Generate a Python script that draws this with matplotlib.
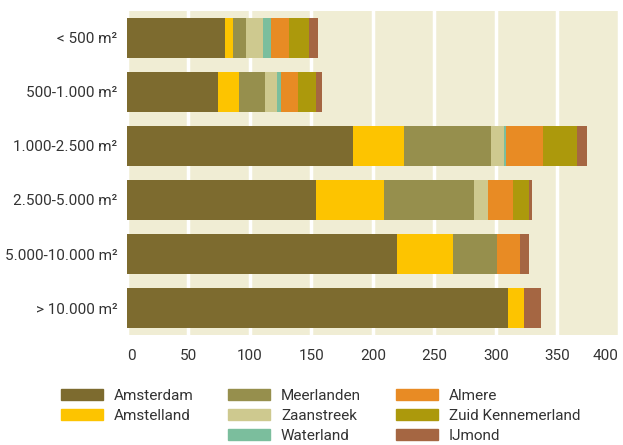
import numpy as np
import matplotlib
matplotlib.use("Agg")
from matplotlib import pyplot as plt
from matplotlib.patches import Patch

plt.rcParams['font.family'] = ['Roboto', 'DejaVu Sans']

categories = ["< 500 m²", "500-1.000 m²", "1.000-2.500 m²",
              "2.500-5.000 m²", "5.000-10.000 m²", "> 10.000 m²"]

regions = ["Amsterdam", "Amstelland", "Meerlanden", "Zaanstreek",
           "Waterland", "Almere", "Zuid Kennemerland", "IJmond"]

amsterdam = [80, 74, 184, 154, 220, 310]
amstelland = [6, 17, 41, 55, 45, 13]
meerlanden = [11, 21, 71, 73, 36, 0]
zaanstreek = [14, 10, 10.5, 12, 0, 0]
waterland = [6, 3, 1.5, 0, 0, 0]
almere = [15, 14, 30, 20, 19, 0]
zuid_kennemerland = [16, 15, 28, 13, 0, 0]
ijmond = [7, 5, 8, 2.5, 7, 14]

series = [amsterdam, amstelland, meerlanden, zaanstreek,
          waterland, almere, zuid_kennemerland, ijmond]

colors = ["#7d6b2f", "#fdc400", "#968f4d", "#cec98f",
          "#7bbe9d", "#e88b24", "#ac990c", "#a56642"]

xticks = [0, 50, 100, 150, 200, 250, 300, 350, 400]

text_color = "#333333"
fs = 11

fig = plt.figure(figsize=(6.23, 4.45), dpi=100)
ax = fig.add_axes([127 / 623, 110 / 445, 493 / 623, 324 / 445])
ax.set_facecolor("#f0edd4")

y = np.arange(len(categories))
left = np.zeros(len(categories))
for vals, col, name in zip(series, colors, regions):
    vals = np.array(vals, dtype=float)
    ax.barh(y, vals, left=left, height=0.73, color=col, label=name, zorder=3)
    left += vals

ax.set_xlim(0, 401)
ax.set_ylim(len(categories) - 0.5, -0.5)
ax.set_yticks(y)
ax.set_yticklabels(categories, fontsize=fs, color=text_color)
ax.set_xticks(xticks)
labels = ax.set_xticklabels([str(t) for t in xticks], fontsize=fs, color=text_color)
labels[0].set_ha("left")
labels[-1].set_ha("right")
ax.tick_params(length=0)
ax.tick_params(axis="x", pad=10)
ax.tick_params(axis="y", pad=7)
ax.grid(axis="x", color="white", linewidth=2.5, zorder=1)
for s in ax.spines.values():
    s.set_visible(False)

# legend in three columns; first column has an empty third row
handles = [Patch(color=c) for c in colors]
groups = [(0, 2), (2, 5), (5, 8)]
xpos = [61, 228, 396]
for (a, b), xp in zip(groups, xpos):
    fig.legend(handles[a:b], regions[a:b], loc="upper left",
               bbox_to_anchor=(xp / 623, 1 - 389 / 445),
               frameon=False, fontsize=fs, handlelength=2.75,
               handleheight=0.72, handletextpad=0.72, labelspacing=0.38,
               borderpad=0, borderaxespad=0, labelcolor=text_color)

fig.savefig("out.png", dpi=100)
